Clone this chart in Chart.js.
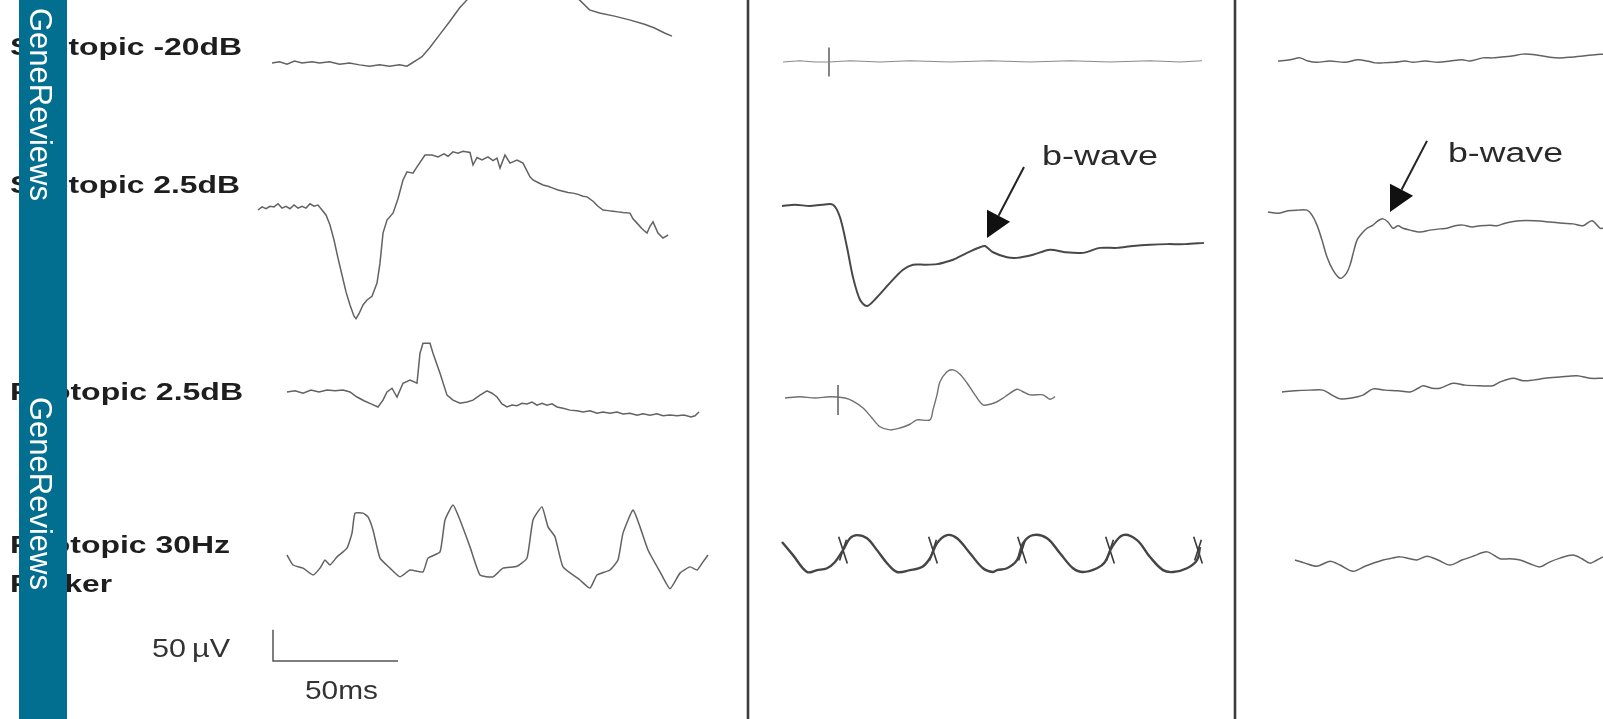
<!DOCTYPE html>
<html>
<head>
<meta charset="utf-8">
<script src="https://cdn.jsdelivr.net/npm/chart.js@4.4.1/dist/chart.umd.min.js"></script>
<style>
  html, body { margin: 0; padding: 0; background: #fff; }
  #wrap { width: 1603px; height: 719px; position: relative; }
</style>
</head>
<body>
<div id="wrap"><canvas id="erg"></canvas></div>
<script>
// ERG traces, [ms from trace start, µV relative to baseline]
// left column: normal
const normalScot20 = [[0,0],[3,2],[6,-2],[9,3],[12,0],[16,2],[19,0],[23,2],[27,-2],[31,0],[35,-3],[39,-5],[43,-3],[47,-5],[51,-3],[54,-5],[56,0],[58,5],[60,10],[63,24],[67,45],[71,66],[75,88],[78,101],[81,120],[87,141],[95,149],[103,146],[111,133],[117,117],[123,101],[127,85],[131,80],[137,75],[143,69],[149,62],[153,56],[157,48],[160,43]];
const normalScot25 = [[0,0],[1.6,5],[3.2,2],[4.8,6],[6.4,5],[8,10],[9.6,3],[11.2,6],[12.8,2],[14.4,8],[16,3],[17.6,6],[19.2,3],[20.8,10],[22.4,6],[24,8],[25.6,0],[27.2,-8],[28.8,-24],[30.4,-48],[32,-77],[33.6,-104],[35.2,-131],[36.8,-152],[38.4,-170],[39.2,-174],[40.4,-166],[42,-152],[43.6,-144],[45.6,-138],[47.6,-117],[48.8,-85],[50,-37],[51.6,-16],[54,-5],[56,18],[58,48],[59.6,61],[62,59],[63.6,69],[66.8,88],[69.6,88],[72,85],[74.4,90],[76,86],[78,93],[80,91],[82,94],[84.8,92],[86,72],[87.6,84],[89.6,80],[92,85],[94,79],[95.6,83],[96.8,67],[98.8,88],[100.8,75],[103.6,80],[106,75],[108.8,53],[110,48],[112,44],[114,40],[116,38],[118,35],[120,32],[122,30],[124,28],[126,27],[128,25],[130,22],[131.6,21],[134,14],[136,6],[138,0],[140,-1],[142,-2],[144,-3],[146,-4],[148.8,-5],[150,-14],[151.6,-21],[153.6,-30],[155.6,-37],[156.8,-26],[158,-19],[160,-37],[162,-45],[164,-40]];
const normalPhot25 = [[0,0],[3.2,2],[6.4,-2],[9.6,3],[12.8,0],[16,3],[19.2,2],[22.4,3],[25.2,0],[28,-8],[30.8,-14],[33.6,-19],[36.4,-24],[38.4,-13],[40,0],[42,6],[44,-8],[46.4,14],[49.2,19],[52,14],[53.2,62],[54.4,78],[57.2,78],[58.4,62],[61.2,30],[64,-5],[66.4,-13],[69.2,-18],[72,-16],[74.4,-13],[77.2,-5],[80,2],[82,-2],[84,-8],[86,-19],[88,-24],[90,-21],[92,-22],[94,-18],[96,-19],[98,-16],[100,-21],[102,-18],[104,-21],[106,-19],[108,-24],[110.4,-26],[113.2,-29],[116,-30],[118.4,-32],[121.2,-30],[124,-34],[126.4,-32],[129.2,-34],[132,-32],[134.4,-35],[137.2,-34],[140,-37],[142.4,-35],[145.2,-37],[148,-35],[150.4,-38],[153.2,-37],[156,-38],[158.8,-37],[161.6,-40],[163.2,-38],[164.8,-32]];
const normalFlicker = [[0,0],[2.4,-16],[6.4,-21],[10.4,-32],[13.2,-21],[15.2,-8],[17.2,-16],[20,-3],[24,11],[26,35],[27.2,67],[30.4,67],[32.4,61],[34.4,40],[37.2,-5],[41.2,-21],[45.2,-35],[49.2,-24],[54.4,-27],[56.4,-5],[61.2,5],[63.2,56],[66.4,80],[69.2,56],[73.2,13],[77.2,-32],[82.4,-35],[86.4,-21],[92,-18],[96,-5],[98.4,56],[102,77],[104.4,45],[107.2,29],[110.4,-19],[117.2,-40],[121.2,-53],[124,-32],[129.2,-24],[132.4,-8],[134.4,35],[138.4,72],[141.2,45],[144.4,8],[149.2,-27],[153.2,-54],[157.2,-29],[161.2,-19],[164,-24],[166.4,-11],[168.4,0]];

// middle column
const midScot20 = [[0,0],[6.8,2],[12.8,0],[18.4,0],[26.8,2],[38.8,0],[50.8,2],[66.8,0],[82.8,2],[98.8,0],[114.8,2],[130.8,0],[146.8,2],[158.8,0],[167.6,2]];
const midScot25 = [[0,0],[5.2,2],[11.2,0],[16,2],[20.4,2],[23.2,-18],[26,-66],[28.4,-114],[31.2,-150],[34,-160],[38,-146],[43.2,-123],[48.4,-102],[52.4,-94],[57.2,-94],[62,-93],[65.2,-90],[68.4,-86],[74,-75],[79.2,-66],[81.2,-64],[84.4,-74],[90,-82],[94,-83],[100.4,-78],[107.2,-70],[113.2,-74],[120.4,-75],[127.2,-67],[134,-67],[140.4,-64],[147.2,-62],[154,-61],[161.2,-61],[168.8,-59]];
const midPhot25 = [[0,0],[6,2],[12,0],[18,2],[24,0],[27.2,-5],[31.2,-16],[34.8,-32],[38,-46],[42,-51],[46,-48],[50,-42],[52.8,-35],[58,-35],[59.2,-19],[60.8,5],[62,26],[64.8,42],[67.2,45],[70,38],[72.8,24],[76,5],[79.2,-11],[82,-10],[84.8,-6],[88,2],[92.8,14],[95.2,10],[98,5],[103.2,5],[106,-2],[108,2]];
const midFlicker = [[0,0],[4.4,-21],[10,-48],[14,-45],[18,-42],[21.2,-32],[24.4,-13],[27.2,6],[30,11],[34,6],[38,-13],[42,-34],[46,-48],[51.2,-45],[56,-40],[59.2,-26],[62,-2],[66,11],[70,6],[75.2,-18],[80.4,-42],[84.4,-48],[86,-45],[90,-42],[94,-29],[96.4,-2],[100.4,11],[106,6],[111.2,-18],[116.4,-42],[120.4,-48],[126,-42],[129.2,-32],[132,-8],[136.4,11],[142,3],[147.2,-24],[152.4,-45],[156.4,-48],[162,-42],[166,-29],[167.2,-8]];
const midScot20Stim = [[18.4,0]];
const midPhot25Stim = [[21.2,-3]];
const midFlickerStim = [[24.4,-13],[60.4,-13],[96,-13],[131.2,-13],[166.4,-13]];

// right column
const rightScot20 = [[0,0],[4.8,2],[8.8,5],[12,0],[15.6,-2],[20.8,0],[26.8,-2],[32,2],[35.6,0],[38.8,-3],[42,-3],[46.8,-2],[50.8,0],[54,-2],[58.8,0],[64,-2],[68.8,0],[73.6,2],[76.8,0],[82,5],[85.6,5],[88.8,6],[93.6,8],[98,11],[102.8,10],[108.8,6],[112.8,5],[116.8,6],[122,8],[126.8,10],[130,11]];
const rightScot25 = [[0,0],[4,-2],[8,2],[12,3],[15.6,3],[17.6,-5],[19.6,-21],[21.6,-45],[23.6,-72],[26,-93],[28.8,-106],[31.2,-99],[32.8,-85],[34.4,-61],[35.6,-45],[37.6,-34],[39.6,-26],[42,-21],[44,-14],[46,-11],[48,-16],[50,-26],[52,-22],[54,-26],[56.8,-29],[60.8,-32],[64.8,-29],[68.8,-27],[71.6,-26],[74.8,-22],[78,-21],[81.6,-24],[84.8,-22],[88.8,-21],[91.6,-22],[94.8,-18],[100.8,-14],[106.8,-14],[112.8,-16],[118,-18],[122,-19],[126,-22],[129.6,-14],[132.8,-26],[134,-26]];
const rightPhot25 = [[0,0],[5.2,2],[11.2,3],[16.4,3],[20,-5],[23.2,-11],[27.2,-10],[32.4,-5],[36.4,5],[41.2,3],[46.4,2],[51.2,0],[54.4,6],[56.4,10],[60,6],[63.2,6],[68.4,14],[73.2,11],[79.2,10],[84.4,10],[87.2,16],[92.4,22],[96.4,18],[100.4,19],[105.2,22],[111.2,24],[118,26],[123.2,22],[128.4,22]];
const rightFlicker = [[0,0],[4,-5],[8.8,-10],[14,-2],[18,-8],[23.2,-18],[28,-10],[35.2,0],[38.8,3],[42,5],[46,2],[48.8,0],[52.8,6],[57.2,0],[62,-8],[66.8,0],[71.2,6],[76.8,13],[82,2],[86,2],[90,0],[94,-6],[98,-11],[102,-3],[106,3],[111.2,8],[114.8,2],[118,-5],[120.8,0],[123.2,5]];

// scale bar (ms, µV)
const scaleMs = 50;
const scaleUv = 50;

const rowLabels = ['Scotopic -20dB', 'Scotopic 2.5dB', 'Photopic 2.5dB', 'Photopic 30Hz', 'Flicker'];
const annotation = 'b-wave';
const watermark = 'GeneReviews';

// ---- layout (pixels) ----
const W = 1603, H = 719;
const PX_MS = 2.5, PX_UV = 0.625;
const toX = px => px / PX_MS;
const toY = py => -py / PX_UV;

const LINE = '#626262';

function trace(pairs, ox, oy, opts) {
  return Object.assign({
    data: pairs.map(p => ({ x: toX(ox) + p[0], y: toY(oy) + p[1] })),
    showLine: true,
    borderColor: LINE,
    borderWidth: 1.5,
    pointRadius: 0,
    tension: 0,
    fill: false
  }, opts || {});
}

function marks(pairs, ox, oy, rot, r, color) {
  return {
    data: pairs.map(p => ({ x: toX(ox) + p[0], y: toY(oy) + p[1] })),
    showLine: false,
    pointStyle: 'line',
    rotation: rot,
    pointRadius: r,
    borderColor: color,
    borderWidth: 1.6
  };
}

const sb = [273, 661];
const datasets = [
  trace(normalScot20, 272, 63),
  trace(normalScot25, 258, 210),
  trace(normalPhot25, 287, 392),
  trace(normalFlicker, 287, 555, { tension: 0.15 }),

  trace(midScot20, 783, 62, { borderColor: '#8a8a8a', borderWidth: 1.2 }),
  trace(midScot25, 782, 206, { borderColor: '#484848', borderWidth: 2, tension: 0.3 }),
  trace(midPhot25, 785, 398, { borderColor: '#707070', borderWidth: 1.4, tension: 0.3 }),
  trace(midFlicker, 782, 542, { borderColor: '#454545', borderWidth: 2.4, tension: 0.35 }),
  marks(midScot20Stim, 783, 62, 90, 14.5, '#666'),
  marks(midPhot25Stim, 785, 398, 90, 15, '#666'),
  marks(midFlickerStim, 782, 542, 72, 14, '#3a3a3a'),
  marks(midFlickerStim, 782, 542, 108, 11, '#3a3a3a'),

  trace(rightScot20, 1278, 61, { tension: 0.3 }),
  trace(rightScot25, 1268, 212, { tension: 0.3 }),
  trace(rightPhot25, 1282, 392, { tension: 0.3 }),
  trace(rightFlicker, 1295, 560, { tension: 0.3 }),

  // scale bar
  {
    data: [
      { x: toX(sb[0]), y: toY(sb[1]) + scaleUv },
      { x: toX(sb[0]), y: toY(sb[1]) },
      { x: toX(sb[0]) + scaleMs, y: toY(sb[1]) }
    ],
    showLine: true, borderColor: '#555', borderWidth: 1.5, pointRadius: 0, tension: 0
  }
];

function stretchText(ctx, txt, x, y, width) {
  const w = ctx.measureText(txt).width;
  ctx.save();
  ctx.translate(x, y);
  ctx.scale(width / w, 1);
  ctx.fillText(txt, 0, 0);
  ctx.restore();
}

function arrow(ctx, tipX, tipY) {
  const sx = tipX + 37, sy = tipY - 71;
  const ang = Math.atan2(tipY - sy, tipX - sx);
  const hl = 25, hw = 13;
  const bx = tipX - hl * Math.cos(ang), by = tipY - hl * Math.sin(ang);
  ctx.strokeStyle = '#222';
  ctx.lineWidth = 2;
  ctx.beginPath();
  ctx.moveTo(sx, sy);
  ctx.lineTo(bx, by);
  ctx.stroke();
  ctx.fillStyle = '#111';
  ctx.beginPath();
  ctx.moveTo(tipX, tipY);
  ctx.lineTo(bx + hw * Math.sin(ang), by - hw * Math.cos(ang));
  ctx.lineTo(bx - hw * Math.sin(ang), by + hw * Math.cos(ang));
  ctx.closePath();
  ctx.fill();
}

const decor = {
  id: 'decor',
  afterDraw(chart) {
    const ctx = chart.ctx;
    const xs = chart.scales.x, ys = chart.scales.y;
    ctx.save();

    // column separators
    ctx.strokeStyle = '#3c3c3c';
    ctx.lineWidth = 2.6;
    [748, 1235].forEach(x => {
      ctx.beginPath();
      ctx.moveTo(x, 0);
      ctx.lineTo(x, H);
      ctx.stroke();
    });

    // row labels
    ctx.fillStyle = '#1e1e1e';
    ctx.textBaseline = 'alphabetic';
    ctx.font = 'bold 24px "Liberation Sans", Arial, sans-serif';
    stretchText(ctx, rowLabels[0], 10, 55, 232);
    stretchText(ctx, rowLabels[1], 10, 193, 230);
    stretchText(ctx, rowLabels[2], 10, 400, 233);
    stretchText(ctx, rowLabels[3], 10, 553, 220);
    stretchText(ctx, rowLabels[4], 10, 592, 102);

    // scale bar text
    ctx.fillStyle = '#333';
    ctx.font = '26px "Liberation Sans", Arial, sans-serif';
    stretchText(ctx, '50\u2009\u00b5V', 152, 657, 78);
    stretchText(ctx, '50ms', 305, 699, 73);

    // b-wave annotations, anchored to the b-wave peaks
    const pA = datasets[5].data[20];
    const pB = datasets[13].data[19];
    const ax = xs.getPixelForValue(pA.x), ay = ys.getPixelForValue(pA.y);
    const bx = xs.getPixelForValue(pB.x), by = ys.getPixelForValue(pB.y);
    ctx.font = '27px "Liberation Sans", Arial, sans-serif';
    ctx.fillStyle = '#2a2a2a';
    stretchText(ctx, annotation, 1042, 165, 116);
    stretchText(ctx, annotation, 1448, 162, 115);
    arrow(ctx, ax + 2, ay - 8);
    arrow(ctx, bx + 7, by - 7);

    // watermark bar
    ctx.fillStyle = '#036f90';
    ctx.fillRect(19, 0, 48, H);
    ctx.fillStyle = '#ffffff';
    ctx.font = '31px "Liberation Sans", Arial, sans-serif';
    [8, 397].forEach(y0 => {
      ctx.save();
      ctx.translate(30, y0);
      ctx.rotate(Math.PI / 2);
      ctx.fillText(watermark, 0, 0);
      ctx.restore();
    });
    ctx.restore();
  }
};

new Chart(document.getElementById('erg'), {
  type: 'scatter',
  data: { datasets: datasets },
  options: {
    responsive: true,
    maintainAspectRatio: false,
    animation: false,
    events: [],
    layout: { padding: 0, autoPadding: false },
    plugins: { legend: { display: false }, tooltip: { enabled: false } },
    scales: {
      x: { type: 'linear', display: false, min: 0, max: toX(W) },
      y: { type: 'linear', display: false, min: toY(H), max: 0 }
    }
  },
  plugins: [decor]
});
</script>
</body>
</html>
